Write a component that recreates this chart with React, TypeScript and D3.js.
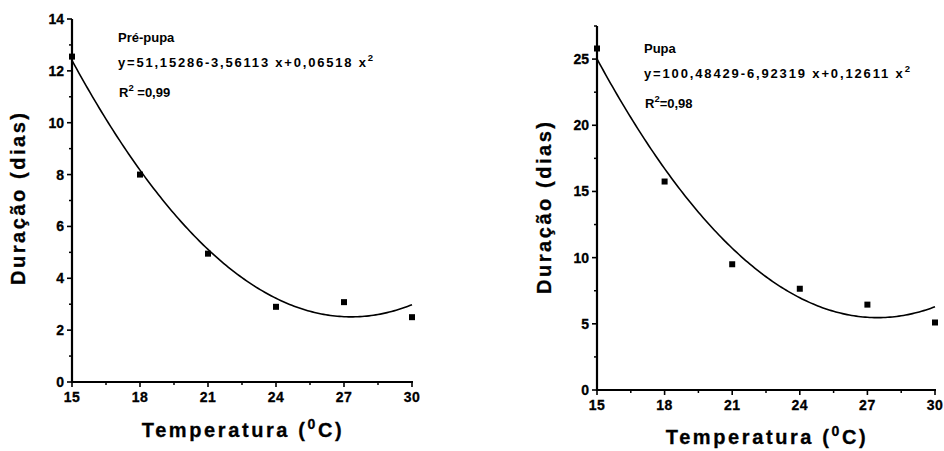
import React from "react";
import * as d3 from "d3";

const temps = [15, 18, 21, 24, 27, 30];
const prePupa = [12.55, 8.0, 4.95, 2.9, 3.08, 2.5];
const pupa = [25.8, 15.75, 9.5, 7.65, 6.45, 5.1];
const prePupaCoef = [51.15286, -3.56113, 0.06518];
const pupaCoef = [100.48429, -6.92319, 0.12611];
const xTicks = [15, 18, 21, 24, 27, 30];
const xMinor = [16.5, 19.5, 22.5, 25.5, 28.5];
const leftYTicks = [0, 2, 4, 6, 8, 10, 12, 14];
const leftYMinor = [1, 3, 5, 7, 9, 11, 13];
const rightYTicks = [0, 5, 10, 15, 20, 25];
const rightYMinor = [2.5, 7.5, 12.5, 17.5, 22.5, 27.5];

const FONT = "Arimo, 'Liberation Sans', Arial, sans-serif";

type PanelProps = {
  xr: [number, number];
  yr: [number, number];
  ymax: number;
  yTicks: number[];
  yMinor: number[];
  values: number[];
  coef: number[];
  title: string;
  eq: string[];
  r2: string;
  ann: [number, number];
  eqLen: number;
  yTitle: [number, number];
  xTitle: [number, number];
};

function Panel(p: PanelProps) {
  const x = d3.scaleLinear().domain([15, 30]).range(p.xr);
  const y = d3.scaleLinear().domain([0, p.ymax]).range(p.yr);
  const f = (t: number) => p.coef[0] + p.coef[1] * t + p.coef[2] * t * t;
  const pts = d3.range(15, 30.001, 0.1).map((t) => [x(t), y(f(t))] as [number, number]);
  const line = d3.line();
  const x0 = p.xr[0];
  const y0 = p.yr[0];
  return (
    <g fontFamily={FONT} fontWeight="bold" fill="#000">
      <line x1={x0} x2={x0} y1={y0 + 1} y2={p.yr[1]} stroke="#000" strokeWidth={2.2} />
      <line x1={x0 - 1} x2={p.xr[1] + 1} y1={y0} y2={y0} stroke="#000" strokeWidth={2.2} />
      {p.yTicks.map((v) => (
        <g key={"yt" + v}>
          <line x1={x0 - 5} x2={x0} y1={y(v)} y2={y(v)} stroke="#000" strokeWidth={1.6} />
          <text x={x0 - 8} y={y(v) + 5} textAnchor="end" fontSize={14} stroke="#000" strokeWidth={0.3}>
            {v}
          </text>
        </g>
      ))}
      {p.yMinor.map((v) => (
        <line key={"ym" + v} x1={x0 - 3} x2={x0} y1={y(v)} y2={y(v)} stroke="#000" strokeWidth={1.5} />
      ))}
      {xTicks.map((v) => (
        <g key={"xt" + v}>
          <line x1={x(v)} x2={x(v)} y1={y0} y2={y0 + 5} stroke="#000" strokeWidth={1.6} />
          <text x={x(v)} y={y0 + 20} textAnchor="middle" fontSize={14} letterSpacing={0.5} stroke="#000" strokeWidth={0.3}>
            {v}
          </text>
        </g>
      ))}
      {xMinor.map((v) => (
        <line key={"xm" + v} x1={x(v)} x2={x(v)} y1={y0} y2={y0 + 3} stroke="#000" strokeWidth={1.5} />
      ))}
      <path d={line(pts) || ""} fill="none" stroke="#000" strokeWidth={1.6} />
      {temps.map((t, i) => (
        <rect key={"p" + i} x={x(t) - 3} y={y(p.values[i]) - 3} width={6} height={6} fill="#000" />
      ))}
      <text x={p.ann[0]} y={p.ann[1]} fontSize={13}>
        {p.title}
      </text>
      <text x={p.ann[0]} y={p.ann[1] + 25} fontSize={13} textLength={p.eqLen} lengthAdjust="spacing">
        {p.eq[0]}
        <tspan dy={-6} fontSize={9.5}>
          2
        </tspan>
      </text>
      <text x={p.ann[0] + 1} y={p.ann[1] + 55} fontSize={13}>
        R
        <tspan dy={-6} fontSize={9.5}>
          2
        </tspan>
        <tspan dy={6}>{p.r2}</tspan>
      </text>
      <text
        transform={`translate(${p.yTitle[0] + 7},${p.yTitle[1]}) rotate(-90)`}
        textAnchor="middle"
        fontSize={20}
        textLength={172}
        lengthAdjust="spacing"
        stroke="#000"
        strokeWidth={0.3}
      >
        Duração (dias)
      </text>
      <text x={p.xTitle[0]} y={p.xTitle[1]} textAnchor="middle" fontSize={20} letterSpacing={2.6} stroke="#000" strokeWidth={0.3}>
        Temperatura (
        <tspan dy={-8} fontSize={14}>
          0
        </tspan>
        <tspan dy={8}>C)</tspan>
      </text>
    </g>
  );
}

export default function App() {
  return (
    <svg width={944} height={451} style={{ position: "absolute", left: 0, top: 0, background: "#fff" }}>
      <rect width={944} height={451} fill="#fff" />
      <Panel
        xr={[72, 412]}
        yr={[382, 19]}
        ymax={14}
        yTicks={leftYTicks}
        yMinor={leftYMinor}
        values={prePupa}
        coef={prePupaCoef}
        title="Pré-pupa"
        eq={["y=51,15286-3,56113 x+0,06518 x"]}
        r2=" =0,99"
        ann={[118, 42]}
        eqLen={255}
        yTitle={[18, 199]}
        xTitle={[243, 437]}
      />
      <Panel
        xr={[597, 935]}
        yr={[390, 26]}
        ymax={27.5}
        yTicks={rightYTicks}
        yMinor={rightYMinor}
        values={pupa}
        coef={pupaCoef}
        title="Pupa"
        eq={["y=100,48429-6,92319 x+0,12611 x"]}
        r2="=0,98"
        ann={[644, 53]}
        eqLen={266}
        yTitle={[544, 208]}
        xTitle={[767, 444]}
      />
    </svg>
  );
}
